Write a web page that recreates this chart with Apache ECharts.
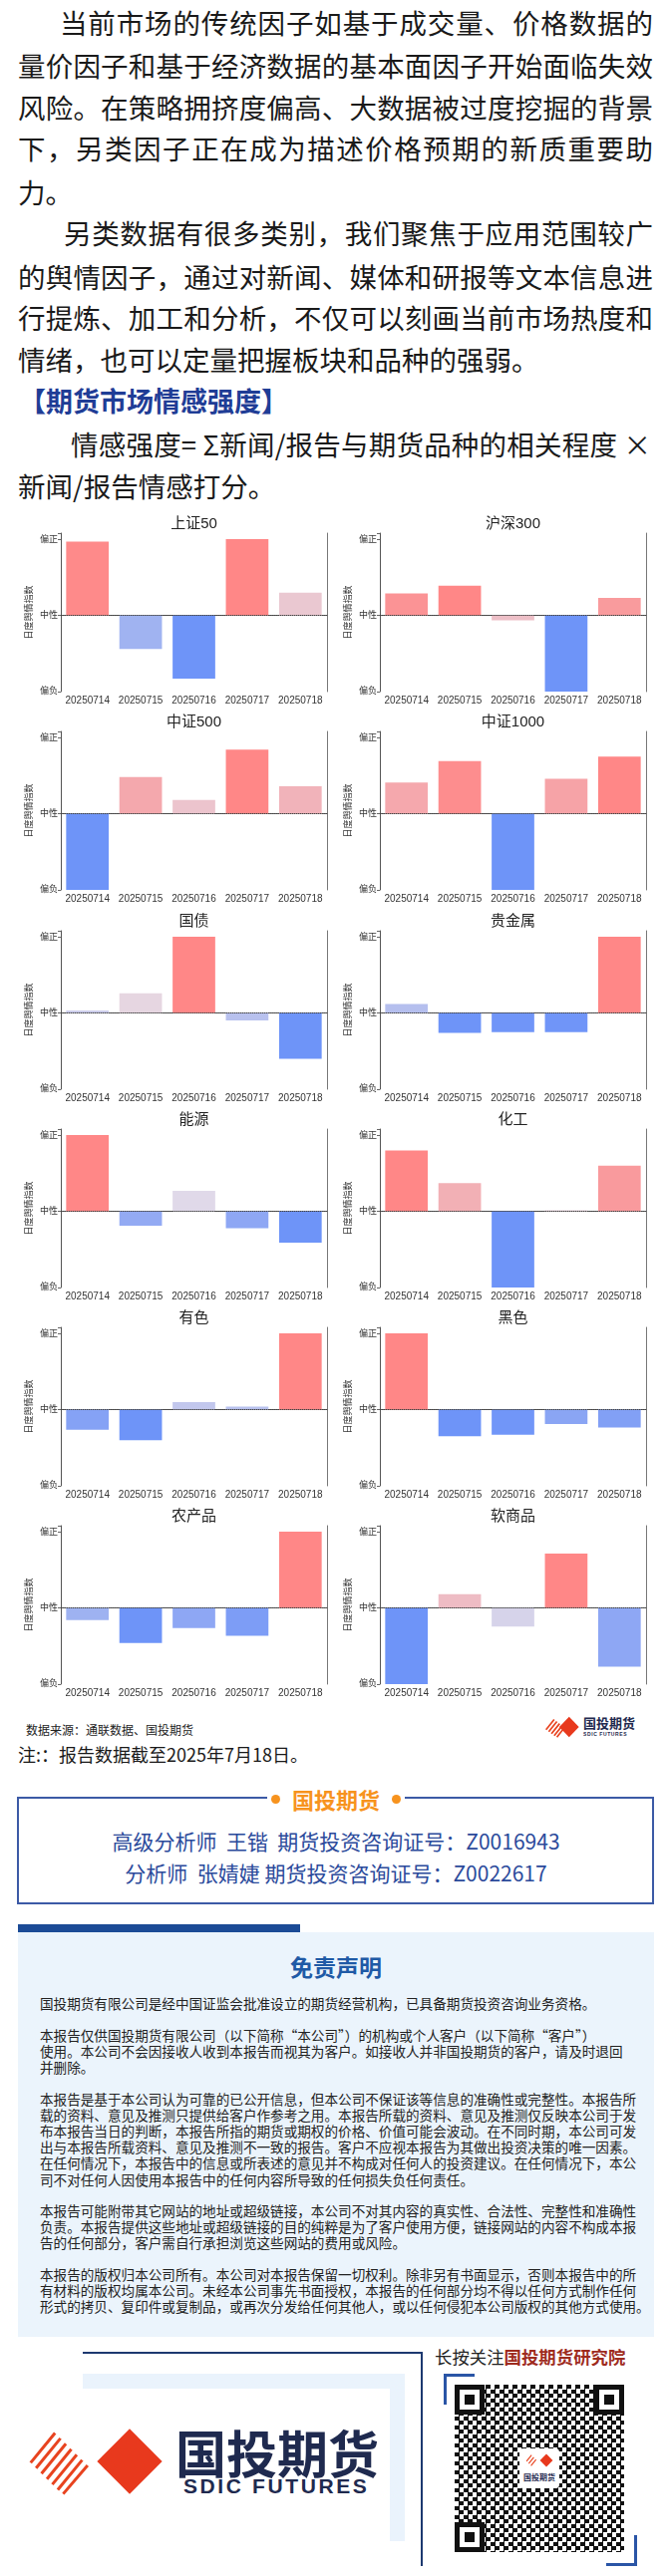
<!DOCTYPE html>
<html lang="zh-CN">
<head>
<meta charset="utf-8">
<script src="https://cdn.jsdelivr.net/npm/echarts@6/dist/echarts.min.js"></script>
<style>
body{margin:0;background:#fff;}
#page{position:relative;width:670px;height:2585px;overflow:hidden;font-family:"Noto Sans CJK SC",sans-serif;color:#1a1a1a;}
.ln{position:absolute;height:42px;line-height:42px;font-size:27.5px;white-space:nowrap;}
.jf{text-align:justify;text-align-last:justify;}
.dl{position:absolute;left:40px;height:16px;line-height:16px;font-size:13.6px;white-space:nowrap;color:#222;}
.dl.jf{width:593px;}
.abs{position:absolute;}
#grafics{position:absolute;left:0;top:505px;width:670px;height:1210px;}
</style>
</head>
<body>
<div id="page">
  <div class="ln jf" style="left:60px;top:1px;width:595px;">当前市场的传统因子如基于成交量、价格数据的</div>
  <div class="ln jf" style="left:18px;top:44px;width:637px;">量价因子和基于经济数据的基本面因子开始面临失效</div>
  <div class="ln jf" style="left:18px;top:86px;width:637px;">风险。在策略拥挤度偏高、大数据被过度挖掘的背景</div>
  <div class="ln jf" style="left:18px;top:127px;width:637px;">下，另类因子正在成为描述价格预期的新质重要助</div>
  <div class="ln" style="left:18px;top:171px;">力。</div>
  <div class="ln jf" style="left:64px;top:212px;width:591px;">另类数据有很多类别，我们聚焦于应用范围较广</div>
  <div class="ln jf" style="left:18px;top:256px;width:637px;">的舆情因子，通过对新闻、媒体和研报等文本信息进</div>
  <div class="ln jf" style="left:18px;top:297px;width:637px;">行提炼、加工和分析，不仅可以刻画当前市场热度和</div>
  <div class="ln" style="left:18px;top:339px;">情绪，也可以定量把握板块和品种的强弱。</div>
  <div class="ln" style="left:19px;top:381px;font-weight:bold;color:#1f3d96;font-size:27px;">【期货市场情感强度】</div>
  <div class="ln jf" style="left:71px;top:424px;width:582px;">情感强度= Σ新闻/报告与期货品种的相关程度 ×</div>
  <div class="ln" style="left:18px;top:466px;">新闻/报告情感打分。</div>

  <div id="grafics"></div>

  <div class="abs" style="left:26px;top:1727px;font-size:12px;line-height:18px;color:#222;">数据来源：通联数据、国投期货</div>
  <div class="abs" style="left:547px;top:1722px;width:34px;height:22px;">
    <svg width="34" height="22" viewBox="0 0 100 64"><g stroke="#e8431f" stroke-width="5"><line x1="2" y1="40" x2="26" y2="10"/><line x1="10" y1="46" x2="34" y2="16"/><line x1="18" y1="52" x2="42" y2="22"/><line x1="26" y1="58" x2="50" y2="28"/><line x1="34" y1="62" x2="56" y2="34"/></g><polygon points="70,2 99,32 70,62 41,32" fill="#e8391d"/></svg>
  </div>
  <div class="abs" style="left:585px;top:1721px;font-size:13px;line-height:15px;font-weight:bold;color:#1f2a4f;">国投期货</div>
  <div class="abs" style="left:585px;top:1737px;font-size:5px;line-height:6px;font-weight:bold;color:#1f2a4f;letter-spacing:0.6px;font-family:'Liberation Sans',sans-serif;">SDIC FUTURES</div>
  <div class="abs" style="left:18px;top:1748px;font-size:18px;line-height:24px;color:#1a1a1a;">注:：报告数据截至2025年7月18日。</div>

  <div class="abs" style="left:17px;top:1803px;width:635px;height:104px;border:2px solid #3c5aa6;"></div>
  <div class="abs" style="left:268px;top:1795px;width:138px;height:20px;background:#fff;"></div>
  <div class="abs" style="left:272px;top:1801px;width:9px;height:9px;border-radius:50%;background:#f7931e;"></div>
  <div class="abs" style="left:393px;top:1801px;width:9px;height:9px;border-radius:50%;background:#f7931e;"></div>
  <div class="abs" style="left:287px;top:1790px;width:100px;text-align:center;font-size:22px;line-height:30px;font-weight:bold;color:#f7931e;">国投期货</div>
  <div class="abs" style="left:0;top:1832px;width:674px;text-align:center;font-size:21px;line-height:30px;color:#2b4a9b;">高级分析师&nbsp;&nbsp;王锴&nbsp;&nbsp;期货投资咨询证号：Z0016943</div>
  <div class="abs" style="left:0;top:1864px;width:674px;text-align:center;font-size:21px;line-height:30px;color:#2b4a9b;">分析师&nbsp;&nbsp;张婧婕&nbsp;期货投资咨询证号：Z0022617</div>

  <div class="abs" style="left:18px;top:1931px;width:283px;height:8px;background:#1b4b96;"></div>
  <div class="abs" style="left:18px;top:1939px;width:638px;height:406px;background:#ebf4fc;"></div>
  <div class="abs" style="left:0;top:1957px;width:674px;text-align:center;font-size:23px;line-height:32px;font-weight:bold;color:#1f5aa6;">免责声明</div>
  <div class="dl" style="top:2002px;">国投期货有限公司是经中国证监会批准设立的期货经营机构，已具备期货投资咨询业务资格。</div>
  <div class="dl" style="top:2034px;">本报告仅供国投期货有限公司（以下简称“本公司”）的机构或个人客户（以下简称“客户”）</div>
  <div class="dl" style="top:2050px;">使用。本公司不会因接收人收到本报告而视其为客户。如接收人并非国投期货的客户，请及时退回</div>
  <div class="dl" style="top:2066px;">并删除。</div>
  <div class="dl jf" style="top:2098px;">本报告是基于本公司认为可靠的已公开信息，但本公司不保证该等信息的准确性或完整性。本报告所</div>
  <div class="dl jf" style="top:2114px;">载的资料、意见及推测只提供给客户作参考之用。本报告所载的资料、意见及推测仅反映本公司于发</div>
  <div class="dl jf" style="top:2130px;">布本报告当日的判断，本报告所指的期货或期权的价格、价值可能会波动。在不同时期，本公司可发</div>
  <div class="dl jf" style="top:2146px;">出与本报告所载资料、意见及推测不一致的报告。客户不应视本报告为其做出投资决策的唯一因素。</div>
  <div class="dl jf" style="top:2162px;">在任何情况下，本报告中的信息或所表述的意见并不构成对任何人的投资建议。在任何情况下，本公</div>
  <div class="dl" style="top:2179px;">司不对任何人因使用本报告中的任何内容所导致的任何损失负任何责任。</div>
  <div class="dl jf" style="top:2210px;">本报告可能附带其它网站的地址或超级链接，本公司不对其内容的真实性、合法性、完整性和准确性</div>
  <div class="dl jf" style="top:2226px;">负责。本报告提供这些地址或超级链接的目的纯粹是为了客户使用方便，链接网站的内容不构成本报</div>
  <div class="dl" style="top:2242px;">告的任何部分，客户需自行承担浏览这些网站的费用或风险。</div>
  <div class="dl jf" style="top:2274px;">本报告的版权归本公司所有。本公司对本报告保留一切权利。除非另有书面显示，否则本报告中的所</div>
  <div class="dl jf" style="top:2290px;">有材料的版权均属本公司。未经本公司事先书面授权，本报告的任何部分均不得以任何方式制作任何</div>
  <div class="dl jf" style="top:2306px;width:600px;">形式的拷贝、复印件或复制品，或再次分发给任何其他人，或以任何侵犯本公司版权的其他方式使用。</div>

  <div class="abs" style="left:83px;top:2382px;width:323px;height:15px;background:#eaf3fc;"></div>
  <div class="abs" style="left:391px;top:2397px;width:15px;height:153px;background:#eaf3fc;"></div>
  <div class="abs" style="left:83px;top:2360px;width:341px;height:2px;background:#1d3970;"></div>
  <div class="abs" style="left:422px;top:2360px;width:2px;height:215px;background:#1d3970;"></div>
  <div class="abs" style="left:28px;top:2436px;width:136px;height:68px;">
    <svg width="136" height="68" viewBox="0 0 100 50"><g stroke="#e8431f" stroke-width="2.2"><line x1="2" y1="26" x2="20" y2="4"/><line x1="6" y1="30" x2="24" y2="8"/><line x1="10" y1="34" x2="28" y2="12"/><line x1="14" y1="38" x2="32" y2="16"/><line x1="18" y1="42" x2="36" y2="20"/><line x1="22" y1="46" x2="40" y2="24"/><line x1="26" y1="49" x2="44" y2="28"/></g><polygon points="75,1 99,25 75,49 51,25" fill="#e8391d"/></svg>
  </div>
  <div class="abs" style="left:176px;top:2430px;font-size:51px;line-height:60px;font-weight:bold;color:#1f2a4f;">国投期货</div>
  <div class="abs" style="left:184px;top:2483px;font-size:21px;line-height:24px;font-weight:bold;color:#1f2a4f;letter-spacing:2.6px;font-family:'Liberation Sans',sans-serif;">SDIC FUTURES</div>
  <div class="abs" style="left:436px;top:2353px;font-size:17.4px;line-height:24px;color:#222;white-space:nowrap;">长按关注<span style="font-weight:bold;color:#9e2b1e;">国投期货研究院</span></div>
  <div class="abs" style="left:445px;top:2382px;width:28px;height:28px;border-left:3px solid #2a55a6;border-top:3px solid #2a55a6;"></div>
  <div class="abs" style="left:608px;top:2544px;width:28px;height:28px;border-right:3px solid #2a55a6;border-bottom:3px solid #2a55a6;"></div>
  <div class="abs" style="left:456px;top:2393px;width:170px;height:168px;background:repeating-conic-gradient(#111 0 25%,#fff 0 50%) 0 0/9px 9px;"></div>
  <div class="abs" style="left:456px;top:2393px;width:30px;height:30px;border:5px solid #111;box-sizing:border-box;background:#fff;"><div style="margin:5px;width:10px;height:10px;background:#111;"></div></div>
  <div class="abs" style="left:596px;top:2393px;width:30px;height:30px;border:5px solid #111;box-sizing:border-box;background:#fff;"><div style="margin:5px;width:10px;height:10px;background:#111;"></div></div>
  <div class="abs" style="left:456px;top:2531px;width:30px;height:30px;border:5px solid #111;box-sizing:border-box;background:#fff;"><div style="margin:5px;width:10px;height:10px;background:#111;"></div></div>
  <div class="abs" style="left:521px;top:2457px;width:40px;height:40px;background:#fff;border-radius:4px;">
    <svg width="28" height="14" viewBox="0 0 100 50" style="margin:5px 6px 0;"><g stroke="#e8431f" stroke-width="4"><line x1="4" y1="28" x2="22" y2="6"/><line x1="12" y1="36" x2="30" y2="14"/><line x1="20" y1="44" x2="38" y2="22"/></g><polygon points="75,2 98,25 75,48 52,25" fill="#e8391d"/></svg>
    <div style="font-size:8px;line-height:10px;text-align:center;font-weight:bold;color:#1f2a4f;">国投期货</div>
  </div>
</div>
<script>
var dates = ['20250714', '20250715', '20250716', '20250717', '20250718'];
var names = ['上证50', '沪深300', '中证500', '中证1000', '国债', '贵金属', '能源', '化工', '有色', '黑色', '农产品', '软商品'];
var sz50 = [0.97, -0.44, -0.83, 1.0, 0.30];
var hs300 = [0.29, 0.39, -0.065, -1.0, 0.23];
var zz500 = [-1.0, 0.48, 0.18, 0.84, 0.36];
var zz1000 = [0.41, 0.69, -1.0, 0.46, 0.75];
var guozhai = [0.035, 0.26, 1.0, -0.096, -0.60];
var guijinshu = [0.12, -0.26, -0.25, -0.25, 1.0];
var nengyuan = [1.0, -0.19, 0.27, -0.22, -0.41];
var huagong = [0.80, 0.37, -1.0, 0.013, 0.60];
var youse = [-0.265, -0.40, 0.10, 0.04, 1.0];
var heise = [1.0, -0.35, -0.33, -0.19, -0.235];
var nongchanpin = [-0.16, -0.46, -0.265, -0.365, 1.0];
var ruanshangpin = [-1.0, 0.18, -0.245, 0.715, -0.77];
var allValues = [sz50, hs300, zz500, zz1000, guozhai, guijinshu, nengyuan, huagong, youse, heise, nongchanpin, ruanshangpin];
var tickNames = {'-1': '偏负', '0': '中性', '1': '偏正'};

var dom = document.getElementById('grafics');
var myChart = echarts.init(dom, null, {renderer: 'canvas'});

var rowTops = [30, 229, 429, 628, 827, 1026];
var colLefts = [61, 381];
var gw = 267, gh = 159;
var font = "'Liberation Sans', 'Noto Sans CJK SC', sans-serif";

var grid = [], xAxis = [], yAxis = [], series = [], visualMap = [], graphic = [];
allValues.forEach(function (vals, i) {
  var left = colLefts[i % 2];
  var top = rowTops[Math.floor(i / 2)];
  grid.push({left: left, top: top, width: gw, height: gh});
  xAxis.push({
    type: 'category', gridIndex: i, data: dates,
    axisLine: {lineStyle: {color: '#555', width: 1}},
    axisTick: {alignWithLabel: true, length: 3, lineStyle: {color: '#888'}},
    axisLabel: {interval: 0, fontSize: 10, color: '#333', margin: 4, fontFamily: font}
  });
  yAxis.push({
    type: 'value', gridIndex: i, min: -1, max: 1.08, interval: 1,
    axisLine: {show: true, lineStyle: {color: '#555', width: 1}},
    axisTick: {show: true, length: 3, lineStyle: {color: '#666'}},
    splitLine: {show: false},
    axisLabel: {fontSize: 9, color: '#333', margin: 3, fontFamily: font,
      formatter: function (v) { return tickNames[String(v)] || ''; }},
    name: '日度舆情指数', nameLocation: 'middle', nameGap: 27,
    nameTextStyle: {fontSize: 9, color: '#333', fontFamily: font}
  });
  yAxis.push({
    type: 'value', gridIndex: i, position: 'right', min: -1, max: 1.08,
    axisLine: {show: true, lineStyle: {color: '#777', width: 1}},
    axisTick: {show: false}, axisLabel: {show: false}, splitLine: {show: false}
  });
  series.push({
    type: 'bar', xAxisIndex: i, yAxisIndex: 2 * i, data: vals, barWidth: '80%',
    markLine: {
      silent: true, symbol: 'none', label: {show: false},
      lineStyle: {type: 'dotted', color: '#444', width: 1},
      data: [{yAxis: 0}]
    }
  });
  visualMap.push({
    type: 'continuous', show: false, seriesIndex: i, dimension: 1,
    min: Math.min.apply(null, vals), max: Math.max.apply(null, vals),
    inRange: {color: ['#6e94f8', '#e4dce8', '#ff8787']}
  });
  graphic.push({
    type: 'text', x: left + gw / 2, y: top - 9,
    style: {text: names[i], font: '15px ' + font, fill: '#222', textAlign: 'center', textVerticalAlign: 'middle'}
  });
});

var option = {
  animation: false,
  grid: grid, xAxis: xAxis, yAxis: yAxis, series: series,
  visualMap: visualMap, graphic: graphic
};

if (option && typeof option === 'object') {
  myChart.setOption(option);
}
window.addEventListener('resize', myChart.resize);
</script>
</body>
</html>
